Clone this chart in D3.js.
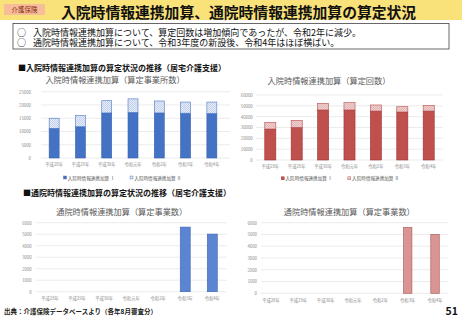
<!DOCTYPE html>
<html><head><meta charset="utf-8">
<script src="https://cdn.jsdelivr.net/npm/d3@7"></script>
<style>
html,body{margin:0;padding:0;background:#fff;}
svg{display:block;font-family:"Noto Sans CJK JP","Noto Sans",sans-serif;}
</style></head>
<body>
<svg id="c" width="462" height="320"></svg>
<script>
const categories = ["平成28年","平成29年","平成30年","令和元年","令和2年","令和3年","令和4年"];
// 入院時情報連携加算（算定事業所数）
const nyuinJigyoI  = [11200, 11800, 17000, 17200, 17000, 16900, 16800];
const nyuinJigyoII = [3800, 4200, 4600, 5100, 4500, 4200, 4300];
// 入院時情報連携加算（算定回数）
const nyuinKaisuI  = [28600, 30100, 46200, 46200, 45200, 44300, 45200];
const nyuinKaisuII = [6200, 6500, 6100, 6700, 5600, 4900, 5300];
// 通院時情報連携加算（算定事業数）
const tsuinLeft  = [0, 0, 0, 0, 0, 5620, 5010];
const tsuinRight = [0, 0, 0, 0, 0, 5600, 5010];
const ticks1 = [0,5000,10000,15000,20000,25000];
const ticks2 = [0,10000,20000,30000,40000,50000,60000];
const ticks3 = [0,1000,2000,3000,4000,5000,6000];
const legendLabels = ["入院時情報連携加算 Ⅰ","入院時情報連携加算 Ⅱ"];

const svg = d3.select("#c");
const defs = svg.append("defs");
function dotPattern(id, bg, dot){
  const p = defs.append("pattern").attr("id",id).attr("patternUnits","userSpaceOnUse")
    .attr("width",2).attr("height",2);
  p.append("rect").attr("width",2).attr("height",2).attr("fill",bg);
  p.append("rect").attr("x",0).attr("y",0).attr("width",0.7).attr("height",0.7).attr("fill",dot);
  p.append("rect").attr("x",1).attr("y",1).attr("width",0.7).attr("height",0.7).attr("fill",dot);
}
dotPattern("pBlue","#e6ecf8","#9db3e0");
dotPattern("pRed","#f0cfcf","#d89a99");

// Header
svg.append("rect").attr("x",0).attr("y",0).attr("width",462).attr("height",20).attr("fill","#fae27a");
svg.append("rect").attr("x",4).attr("y",4).attr("width",41).attr("height",11).attr("rx",1).attr("fill","#f7bd98");
svg.append("text").attr("x",24.5).attr("y",12.2).attr("text-anchor","middle").attr("font-size",6.5)
  .attr("fill","#8b2a1a").text("介護保険");
svg.append("text").attr("x",61).attr("y",17.5).attr("font-size",14.8).attr("font-weight","bold")
  .attr("fill","#111").text("入院時情報連携加算、通院時情報連携加算の算定状況");

// Summary box
svg.append("rect").attr("x",13).attr("y",23.5).attr("width",436).attr("height",25.5)
  .attr("fill","#fff").attr("stroke","#444").attr("stroke-width",0.8);
const lines = ["入院時情報連携加算について、算定回数は増加傾向であったが、令和2年に減少。",
               "通院時情報連携加算について、令和3年度の新設後、令和4年はほぼ横ばい。"];
lines.forEach((t,i)=>{
  const y = 35.5 + i*10.4;
  svg.append("text").attr("x",17).attr("y",y).attr("font-size",9).attr("fill","#111").text("○");
  svg.append("text").attr("x",33).attr("y",y).attr("font-size",9).attr("fill","#111").text(t);
});

// Section headings
svg.append("text").attr("x",18).attr("y",70.5).attr("font-size",8).attr("font-weight","bold")
  .attr("fill","#111").text("■入院時情報連携加算の算定状況の推移（居宅介護支援）");
svg.append("text").attr("x",23).attr("y",195.5).attr("font-size",8).attr("font-weight","bold")
  .attr("fill","#111").text("■通院時情報連携加算の算定状況の推移（居宅介護支援）");

function chart(o){
  const g = svg.append("g");
  const x = d3.scaleBand().domain(categories).range([o.x0,o.x1]).paddingInner(o.pad).paddingOuter(o.pad/2);
  const y = d3.scaleLinear().domain([0,o.max]).range([o.yb,o.yt]);
  // grid
  g.selectAll("line.grid").data(o.ticks).join("line")
    .attr("x1",o.gx0).attr("x2",o.gx1).attr("y1",d=>y(d)).attr("y2",d=>y(d))
    .attr("stroke","#dedede").attr("stroke-width",0.6);
  // y axis labels
  const ya = d3.axisLeft(y).tickValues(o.ticks).tickSize(0).tickPadding(0).tickFormat(d3.format("d"));
  const yg = g.append("g").attr("transform",`translate(${o.lx},0)`).call(ya);
  yg.select(".domain").remove();
  yg.selectAll("text").attr("font-size",4.3).attr("fill","#8a8a8a").attr("font-family","Noto Sans CJK JP, sans-serif");
  // x axis labels
  const xa = d3.axisBottom(x).tickSize(0).tickPadding(0);
  const xg = g.append("g").attr("transform",`translate(0,${o.cy})`).call(xa);
  xg.select(".domain").remove();
  xg.selectAll("text").attr("font-size",4.3).attr("fill","#8a8a8a").attr("dy","0.32em").attr("font-family","Noto Sans CJK JP, sans-serif");
  // bars
  const series = o.series;
  const stackData = categories.map((c,i)=>{const r={c}; series.forEach((s,k)=>r["s"+k]=s.values[i]); return r;});
  const st = d3.stack().keys(series.map((s,k)=>"s"+k))(stackData);
  st.forEach((layer,k)=>{
    g.selectAll(null).data(layer.filter(d=>d[1]-d[0]>0)).join("rect")
      .attr("x",d=>x(d.data.c)).attr("width",x.bandwidth())
      .attr("y",d=>y(d[1])).attr("height",d=>y(d[0])-y(d[1]))
      .attr("fill",series[k].fill).attr("stroke",series[k].stroke).attr("stroke-width",0.6);
  });
  // title
  g.append("text").attr("x",o.tx).attr("y",o.ty).attr("text-anchor","middle").attr("dominant-baseline","central")
    .attr("font-size",8.2).attr("fill","#5a5a5a").text(o.title);
  // legend
  if(o.legend){
    o.legend.forEach((L,k)=>{
      g.append("rect").attr("x",L.x-1.5).attr("y",o.ly-1.5).attr("width",3).attr("height",3)
        .attr("fill",series[k].fill).attr("stroke",series[k].stroke).attr("stroke-width",0.4);
      g.append("text").attr("x",L.x+2.8).attr("y",o.ly).attr("dominant-baseline","central")
        .attr("font-size",4.6).attr("fill","#595959").text(legendLabels[k]);
    });
  }
}

chart({x0:41,x1:225,pad:0.62,yt:91.7,yb:158,max:25000,ticks:ticks1,gx0:41,gx1:230,lx:31,cy:165,
  title:"入院時情報連携加算（算定事業所数）",tx:115,ty:79,ly:177.5,
  legend:[{x:65},{x:131.5}],
  series:[{values:nyuinJigyoI,fill:"#4472c4",stroke:"#3a62ab"},{values:nyuinJigyoII,fill:"url(#pBlue)",stroke:"#4f78c7"}]});

chart({x0:257.1,x1:441.9,pad:0.58,yt:95,yb:160,max:60000,ticks:ticks2,gx0:256,gx1:442.7,lx:252.7,cy:166.7,
  title:"入院時情報連携加算（算定回数）",tx:329,ty:80,ly:178.3,
  legend:[{x:282.7},{x:349.3}],
  series:[{values:nyuinKaisuI,fill:"#c0504d",stroke:"#9c3533"},{values:nyuinKaisuII,fill:"url(#pRed)",stroke:"#b8504e"}]});

chart({x0:36.5,x1:225.8,pad:0.63,yt:222.7,yb:291.7,max:6000,ticks:ticks3,gx0:36,gx1:226.7,lx:31.7,cy:298.3,
  title:"通院時情報連携加算（算定事業数）",tx:121.7,ty:211,
  series:[{values:tsuinLeft,fill:"#5b85d2",stroke:"#3f67b5"}]});

chart({x0:257.3,x1:448.7,pad:0.69,yt:222.7,yb:293.3,max:6000,ticks:ticks3,gx0:261,gx1:447.7,lx:257,cy:300.7,
  title:"通院時情報連携加算（算定事業数）",tx:349.3,ty:211,
  series:[{values:tsuinRight,fill:"#d99594",stroke:"#a85553"}]});

// footer
svg.append("text").attr("x",4).attr("y",314).attr("font-size",6.5).attr("font-weight","bold")
  .attr("fill","#222").text("出典：介護保険データベースより（各年8月審査分）");
svg.append("text").attr("x",458).attr("y",315).attr("text-anchor","end").attr("font-size",10.5).attr("font-weight","bold")
  .attr("fill","#111").text("51");
</script>
</body></html>
